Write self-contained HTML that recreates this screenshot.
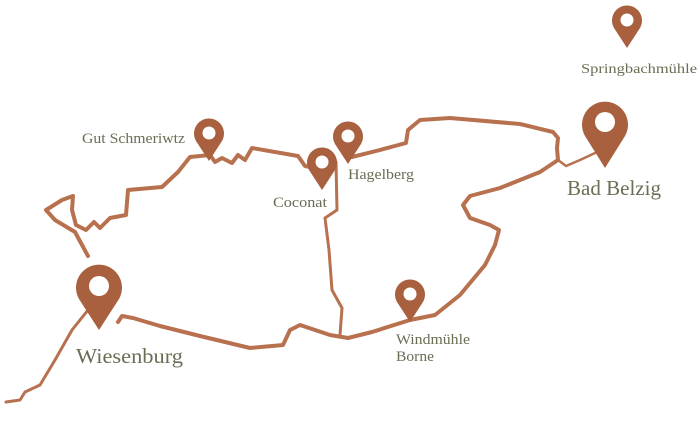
<!DOCTYPE html>
<html><head><meta charset="utf-8"><style>
html,body{margin:0;padding:0;background:#fff;}
svg{display:block;}
text{font-family:"Liberation Serif",serif;fill:#6b6d55;}
</style></head><body>
<svg width="700" height="427" viewBox="0 0 700 427" xmlns="http://www.w3.org/2000/svg">
<g fill="none" stroke="#b8714f" stroke-linejoin="round" stroke-linecap="round">
<path stroke-width="4" d="M118,322 L122,316 L133,318 L160,326 L200,336 L250,348 L283,345 L290,330 L300,325 L330,335 L348,338 L372,332 L410,320 L435,315 L460,295 L485,265 L495,245 L499,230 L490,225 L470,218 L463,205 L470,196 L500,188 L540,172 L558,160 L557,148 L558,138 L553,132 L520,124 L450,118 L420,120 L408,130 L406,143 L380,150 L352,157"/>
<path stroke-width="4" d="M325,170 L305,166 L298,156 L252,148 L245,160 L238,155 L232,163 L222,158 L215,162 L210,155 L190,157 L178,172 L162,187 L128,190 L126,215 L110,218 L100,228 L94,222 L86,230 L76,225 L72,210 L73,196 L62,200 L46,210 L55,220 L75,232 L88,256"/>
<path stroke-width="3" d="M88,310 L72,330 L55,360 L40,385 L25,392 L20,400 L6,402"/>
<path stroke-width="3" d="M336,162 L337,210 L325,218 L329,250 L332,290 L342,308 L340,335"/>
<path stroke-width="2.5" d="M558,160 L566,166 L580,160 L595,153"/>
</g>
<g fill="#a9603f">
<path d="M209,161 L196,141 A15,15 0 1 1 222,141 Z"/><circle cx="209" cy="133" r="6.5" fill="#fff"/>
<path d="M322,190 L309,170 A15,15 0 1 1 335,170 Z"/><circle cx="322" cy="162" r="6.5" fill="#fff"/>
<path d="M348,164 L335,144 A15,15 0 1 1 361,144 Z"/><circle cx="348" cy="136" r="6.5" fill="#fff"/>
<path d="M410,322 L397,302 A15,15 0 1 1 423,302 Z"/><circle cx="410" cy="294" r="6.5" fill="#fff"/>
<path d="M627,48 L614,28 A15,15 0 1 1 640,28 Z"/><circle cx="627" cy="20" r="6.5" fill="#fff"/>
<path d="M99,330 L79,299 A23,23 0 1 1 119,299 Z"/><circle cx="99" cy="286" r="10" fill="#fff"/>
<path d="M605,168 L585,136 A23,23 0 1 1 625,136 Z"/><circle cx="605" cy="122" r="10" fill="#fff"/>
</g>
<text x="82" y="143" font-size="15" textLength="103" lengthAdjust="spacingAndGlyphs">Gut Schmeriwtz</text>
<text x="273" y="207" font-size="15" textLength="54" lengthAdjust="spacingAndGlyphs">Coconat</text>
<text x="348" y="179" font-size="15" textLength="66" lengthAdjust="spacingAndGlyphs">Hagelberg</text>
<text x="396" y="344" font-size="15" textLength="74" lengthAdjust="spacingAndGlyphs">Windmühle</text>
<text x="396" y="361" font-size="15" textLength="38" lengthAdjust="spacingAndGlyphs">Borne</text>
<text x="581" y="73" font-size="14" textLength="116" lengthAdjust="spacingAndGlyphs">Springbachmühle</text>
<text x="76" y="363" font-size="21" textLength="107" lengthAdjust="spacingAndGlyphs">Wiesenburg</text>
<text x="567" y="195" font-size="21" textLength="94" lengthAdjust="spacingAndGlyphs">Bad Belzig</text>
</svg>
</body></html>
